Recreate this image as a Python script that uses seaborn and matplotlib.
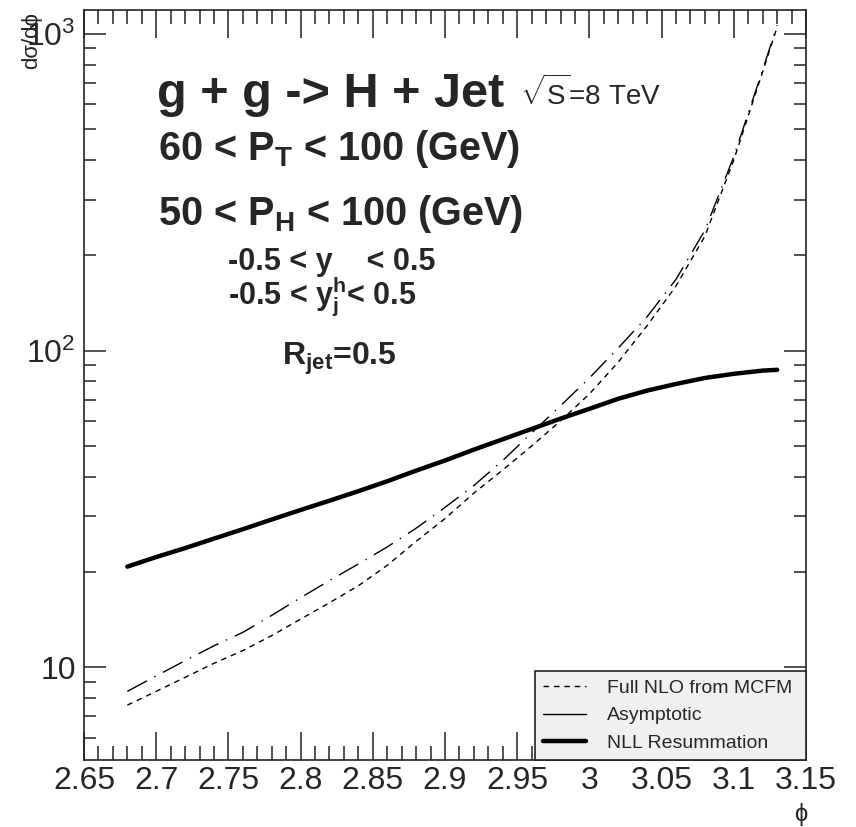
import numpy as np
import pandas as pd
import matplotlib

matplotlib.use("Agg")
import matplotlib.pyplot as plt
import matplotlib.ticker as ticker
from matplotlib.lines import Line2D
import seaborn as sns

# curve values
phi = [2.68, 2.70, 2.72, 2.74, 2.76, 2.78, 2.80, 2.82, 2.84, 2.86, 2.88, 2.90,
       2.92, 2.94, 2.96, 2.98, 3.00, 3.02, 3.04, 3.06, 3.08, 3.10, 3.12, 3.13]
full_nlo = [7.6, 8.4, 9.3, 10.3, 11.3, 12.6, 14.2, 16.0, 18.1, 21.0, 25.0, 29.5,
            35.5, 42.0, 50.0, 60.0, 73.0, 92.0, 120.0, 160.0, 230.0, 400.0, 760.0, 1050.0]
asymptotic = [8.4, 9.4, 10.5, 11.7, 12.9, 14.6, 16.6, 18.8, 21.2, 24.0, 27.5, 32.0,
              37.5, 45.0, 55.0, 67.0, 82.0, 102.0, 128.0, 168.0, 240.0, 410.0, 770.0, 1065.0]
nll = [20.8, 22.3, 23.8, 25.5, 27.3, 29.3, 31.4, 33.6, 36.0, 38.7, 41.8, 45.0,
       48.7, 52.5, 56.6, 61.0, 65.5, 70.5, 74.8, 78.5, 82.0, 84.5, 86.5, 87.0]
labels = ["Full NLO from MCFM", "Asymptotic", "NLL Resummation"]

W, H = 856, 827

sns.set_theme(style="white")
plt.rcParams["font.family"] = ["Liberation Sans", "DejaVu Sans"]
plt.rcParams["mathtext.fontset"] = "custom"
plt.rcParams["mathtext.rm"] = "Liberation Sans"
plt.rcParams["mathtext.it"] = "Liberation Sans:italic"
plt.rcParams["mathtext.bf"] = "Liberation Sans:bold"


def fpos(x, y):
    return x / W, 1 - y / H


df = pd.DataFrame({"phi": phi, "nlo": full_nlo, "asym": asymptotic, "nll": nll})

fig = plt.figure(figsize=(W / 100, H / 100), dpi=100)
ax = fig.add_axes([84 / W, 1 - 760 / H, 722 / W, 750 / H])

sns.lineplot(data=df, x="phi", y="nlo", ax=ax, color="black", lw=1.0)
ax.lines[-1].set_dashes((4, 3.5))
sns.lineplot(data=df, x="phi", y="asym", ax=ax, color="black", lw=1.0)
ax.lines[-1].set_dashes((16, 6, 1, 6))
sns.lineplot(data=df, x="phi", y="nll", ax=ax, color="black", lw=3.2)

ax.set_yscale("log")
ax.set_xlim(2.65, 3.15)
ax.set_ylim(5.1, 1190)
ax.set_xlabel("")
ax.set_ylabel("")

ax.xaxis.set_major_locator(ticker.MultipleLocator(0.05))
ax.xaxis.set_minor_locator(ticker.MultipleLocator(0.01))
ax.xaxis.set_major_formatter(ticker.FuncFormatter(lambda v, p: f"{v:g}"))
ax.yaxis.set_major_locator(ticker.LogLocator(base=10))
ax.yaxis.set_minor_locator(ticker.LogLocator(base=10, subs=np.arange(2, 10)))
ax.yaxis.set_minor_formatter(ticker.NullFormatter())


def ylab(v, p):
    e = int(round(np.log10(v)))
    return "10" if e == 1 else f"$10^{{{e}}}$"


ax.yaxis.set_major_formatter(ticker.FuncFormatter(ylab))

ax.tick_params(axis="both", which="both", direction="in", top=True, right=True,
               bottom=True, left=True, width=1.1, color="#222222", labelsize=23)
ax.tick_params(axis="x", which="major", length=20, pad=4)
ax.tick_params(axis="x", which="minor", length=10)
ax.tick_params(axis="y", which="major", length=16, pad=6)
ax.tick_params(axis="y", which="minor", length=8.5)
for s in ax.spines.values():
    s.set_linewidth(1.2)
    s.set_color("#222222")

# axis titles, ROOT style
fig.text(*fpos(32, 12), "dσ/dϕ", rotation=90, ha="center", va="top", fontsize=16)
fig.text(*fpos(801, 826), "ϕ", ha="center", va="bottom", fontsize=17)

# annotation block
ax.text(*fpos(157, 107), "g + g -> H + Jet", transform=fig.transFigure,
        fontsize=35, fontweight="bold", va="baseline")
ax.text(*fpos(520, 105), r"$\sqrt{\mathrm{S}}$=8 TeV", transform=fig.transFigure,
        fontsize=20, va="baseline")
ax.text(*fpos(158, 160), r"60 < P$_{\mathbf{T}}$ < 100 (GeV)", transform=fig.transFigure,
        fontsize=28.5, fontweight="bold", va="baseline")
ax.text(*fpos(158, 225), r"50 < P$_{\mathbf{H}}$ < 100 (GeV)", transform=fig.transFigure,
        fontsize=28.5, fontweight="bold", va="baseline")
ax.text(*fpos(228, 270), "-0.5 < y    < 0.5", transform=fig.transFigure,
        fontsize=22, fontweight="bold", va="baseline")
ax.text(*fpos(228, 303), r"-0.5 < y$_{\mathbf{j}}^{\mathbf{h}}$< 0.5", transform=fig.transFigure,
        fontsize=22, fontweight="bold", va="baseline")
ax.text(*fpos(282, 365), r"R$_{\mathbf{jet}}$=0.5", transform=fig.transFigure,
        fontsize=23, fontweight="bold", va="baseline")

handles = [
    Line2D([], [], color="black", lw=1.0, dashes=(4, 3.5)),
    Line2D([], [], color="black", lw=1.0),
    Line2D([], [], color="black", lw=3.2),
]
leg = ax.legend(handles, labels, loc="lower left",
                bbox_to_anchor=(451 / 722, 0, 271 / 722, 91 / 750), mode="expand",
                borderaxespad=0, fancybox=False, frameon=True, fontsize=14,
                handlelength=2.2, handletextpad=1.1, labelspacing=0.5, borderpad=0.42)
frame = leg.get_frame()
frame.set_facecolor("#f0f0f0")
frame.set_edgecolor("#222222")
frame.set_linewidth(1.2)
frame.set_alpha(1)

fig.savefig("out.png", dpi=100, facecolor="w", edgecolor="w")
plt.close()
